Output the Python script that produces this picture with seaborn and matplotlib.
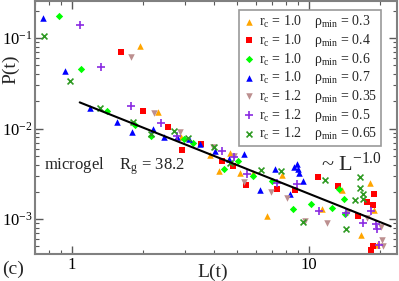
import numpy as np
import pandas as pd
import matplotlib
matplotlib.use('Agg')
import matplotlib.pyplot as plt
import matplotlib.ticker as mticker
import seaborn as sns

# --- data ---
orange_L = [1.94, 2.32, 2.90, 3.84, 4.20, 4.67, 5.15, 5.81, 6.64, 7.74, 11.4, 13.8, 16.7, 18.1, 18.9, 19.4]
orange_P = [0.0812, 0.0153, 0.0080, 0.00516, 0.00337, 0.0054, 0.00321, 0.00324, 0.00109, 0.00308, 0.00128, 0.00207, 0.00066, 0.00251, 0.00126, 0.00052]

red_L = [1.62, 2.0, 2.55, 2.93, 3.51, 4.31, 4.80, 5.46, 7.32, 8.75, 10.9, 13.3, 16.2, 17.6, 18.6, 18.8, 18.6, 18.3]
red_P = [0.0697, 0.0157, 0.0105, 0.0058, 0.0068, 0.00435, 0.00383, 0.0024, 0.00217, 0.0021, 0.00295, 0.00233, 0.00108, 0.00156, 0.00144, 0.00191, 0.0005, 0.00045]

green_L = [0.884, 1.09, 1.41, 1.85, 2.16, 2.99, 3.26, 4.38, 5.01, 5.83, 6.97, 8.58, 10.2, 12.5, 13.4, 14.1, 14.2]
green_P = [0.176, 0.046, 0.0155, 0.0111, 0.0082, 0.0076, 0.0069, 0.00359, 0.00435, 0.0030, 0.00262, 0.0013, 0.00147, 0.00132, 0.00216, 0.00167, 0.00113]

blue_L = [0.756, 0.934, 1.19, 1.55, 1.80, 2.20, 2.46, 2.79, 3.11, 3.49, 4.04, 4.59, 5.32, 6.26, 7.18, 8.33, 8.70, 8.89, 9.01, 9.14, 9.50]
blue_P = [0.167, 0.0437, 0.0169, 0.0119, 0.0092, 0.0098, 0.0080, 0.0080, 0.00776, 0.0068, 0.0057, 0.0046, 0.0053, 0.0021, 0.0036, 0.0019, 0.0038, 0.0041, 0.0036, 0.0032, 0.0026]

brown_L = [1.78, 2.22, 2.87, 3.95, 4.83, 5.35, 6.90, 8.12, 9.62, 12.0, 14.6, 17.7, 20.2, 20.4, 20.5]
brown_P = [0.0625, 0.0150, 0.0091, 0.0062, 0.0050, 0.00255, 0.00198, 0.00171, 0.00096, 0.0009, 0.00121, 0.00102, 0.00081, 0.00059, 0.0005]

purple_L = [1.08, 1.33, 1.77, 2.37, 2.78, 4.31, 4.83, 5.50, 7.37, 8.95, 11.1, 14.4, 17.0, 18.4, 19.2, 19.4, 19.9]
purple_P = [0.140, 0.0481, 0.0176, 0.0116, 0.0083, 0.0057, 0.0049, 0.00316, 0.00249, 0.00245, 0.00124, 0.00118, 0.0009, 0.00122, 0.00087, 0.00077, 0.00051]

darkgreen_L = [0.761, 0.978, 1.31, 1.81, 2.16, 2.70, 3.10, 3.97, 4.64, 6.30, 7.61, 9.50, 11.7, 14.4, 15.7, 16.5, 16.5, 17.0, 16.9]
darkgreen_P = [0.107, 0.0339, 0.0169, 0.0118, 0.0087, 0.0093, 0.0079, 0.0063, 0.0042, 0.0035, 0.0034, 0.00093, 0.0027, 0.00078, 0.00163, 0.0029, 0.0022, 0.0019, 0.00166]

rc_vals = ['1.0', '1.0', '1.0', '1.0', '1.2', '1.2', '1.2']
rho_vals = ['0.3', '0.4', '0.6', '0.7', '0.35', '0.5', '0.65']

# power-law guide line endpoints
fit_L = [1.08, 22.2]
fit_P = [0.0195, 0.00083]

series = [
    (orange_L, orange_P, '^', '#FFA500'),
    (red_L, red_P, 's', '#FF0000'),
    (green_L, green_P, 'D', '#00FF00'),
    (blue_L, blue_P, '^', '#0000FF'),
    (brown_L, brown_P, 'v', '#BC8F8F'),
    (purple_L, purple_P, '+', '#8A2BE2'),
    (darkgreen_L, darkgreen_P, 'x', '#2E9A22'),
]
sizes = {'^': 22, 's': 18, 'D': 14, 'v': 22, '+': 30, 'x': 18}

sns.set_style('ticks')
plt.rcParams['font.family'] = ['Liberation Serif', 'DejaVu Serif']
plt.rcParams['mathtext.fontset'] = 'custom'
plt.rcParams['mathtext.rm'] = 'Liberation Serif'
plt.rcParams['mathtext.it'] = 'Liberation Serif:italic'

fig = plt.figure(figsize=(3.99, 2.81), dpi=100)
ax = fig.add_axes([0.088, 0.096, 0.907, 0.9])

for i, (L, P, m, c) in enumerate(series):
    df = pd.DataFrame({'L': L, 'P': P})
    label = (r'r$_\mathrm{c}$ = ' + rc_vals[i] + '    '
             + r'$\mathrm{\rho}_\mathrm{min}$ = ' + rho_vals[i])
    if m in ('+', 'x'):
        sns.scatterplot(data=df, x='L', y='P', marker=m, color=c, s=sizes[m],
                        linewidth=1.2, ax=ax, label=label)
    else:
        sns.scatterplot(data=df, x='L', y='P', marker=m, color=c, s=sizes[m],
                        linewidth=0, ax=ax, label=label)

sns.lineplot(x=fit_L, y=fit_P, color='black', linewidth=1.5, ax=ax, legend=False)

ax.set_xscale('log')
ax.set_yscale('log')
ax.set_xlim(0.70, 23.6)
ax.set_ylim(4.1e-4, 0.257)

ax.set_xticks([1, 10])
ax.set_xticklabels(['1', '10'])
ax.xaxis.set_minor_formatter(mticker.NullFormatter())
ax.yaxis.set_major_formatter(mticker.LogFormatterSciNotation())
ax.yaxis.set_minor_formatter(mticker.NullFormatter())

ax.tick_params(which='both', direction='in', top=True, right=True, labelsize=12, colors='0.35',
               labelcolor='black', pad=2)
ax.tick_params(which='major', length=6, width=1)
ax.tick_params(which='minor', length=3, width=0.8)
for sp in ax.spines.values():
    sp.set_color('0.5')
    sp.set_linewidth(1.5)

ax.set_xlabel('L(t)', fontsize=14)
ax.set_ylabel('P(t)', fontsize=14)
ax.xaxis.set_label_coords(0.49, -0.04, transform=ax.transAxes)
ax.xaxis.label.set_va('top')
ax.yaxis.set_label_coords(-0.068, 0.73, transform=ax.transAxes)
ax.yaxis.label.set_va('center')

ax.text(0.025, 0.335, r'microgel    R$_\mathrm{g}$ = 38.2', transform=ax.transAxes, fontsize=12)
ax.text(0.79, 0.33, r'~ L$^{\mathrm{-1.0}}$', transform=ax.transAxes, fontsize=16)
fig.text(0.005, 0.025, '(c)', fontsize=14)

leg = ax.legend(loc='upper right', bbox_to_anchor=(0.955, 0.965), fontsize=10,
                frameon=True, fancybox=False, edgecolor='0.5', handletextpad=0.2,
                handlelength=1.0, labelspacing=0.12, borderpad=0.25, borderaxespad=0.0)
leg.get_frame().set_linewidth(1.2)

fig.savefig('out.png', dpi=100)
